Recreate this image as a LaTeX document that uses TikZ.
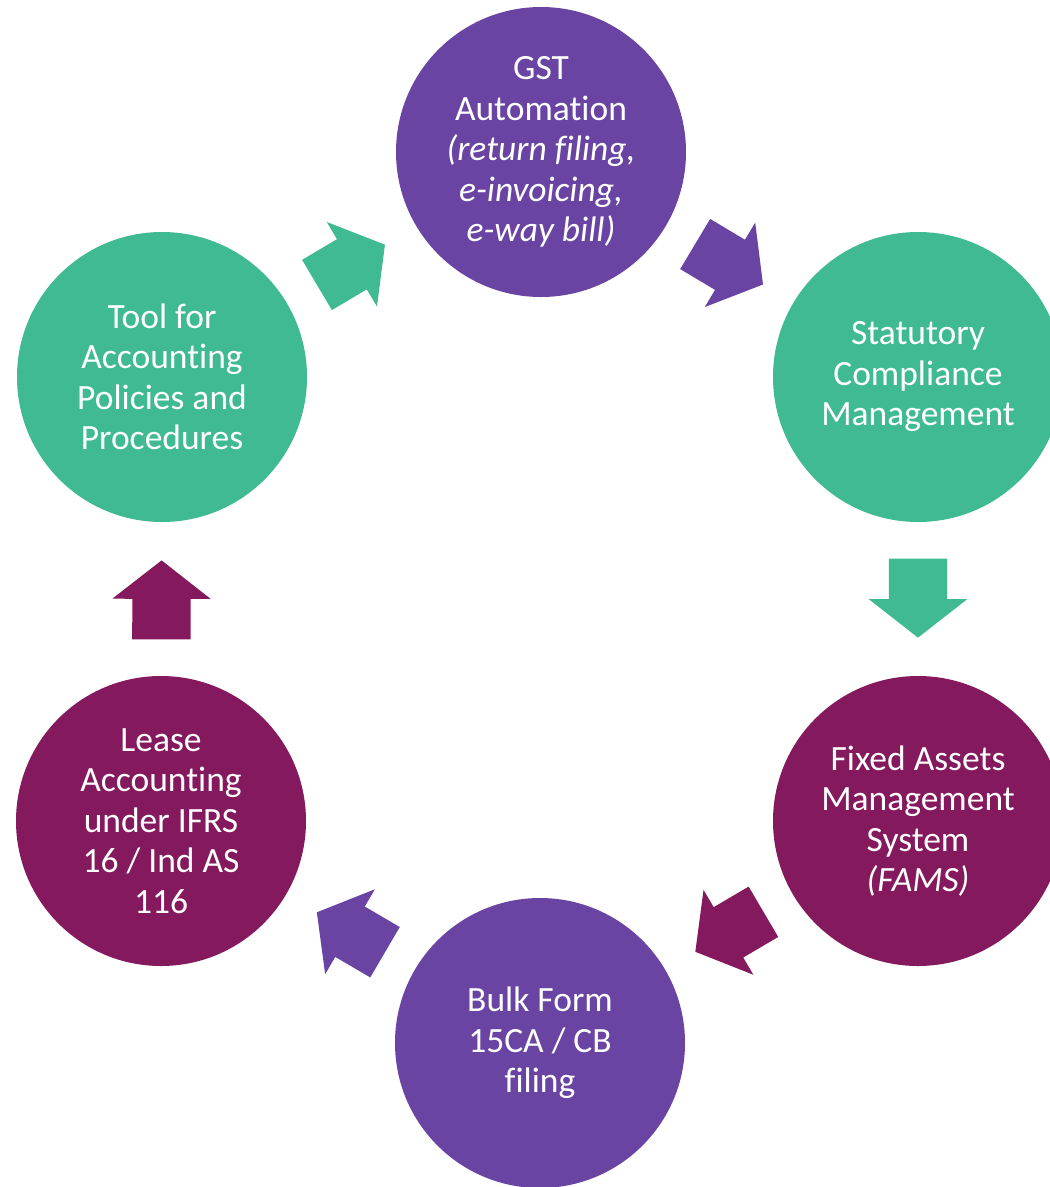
\documentclass[tikz,border=0pt]{standalone}
\usepackage{fontspec}
\setmainfont{Carlito}[Ligatures=NoCommon]
\usetikzlibrary{shapes.arrows}
\definecolor{cyclegreen}{RGB}{64,186,146}
\definecolor{cyclepurple}{RGB}{106,68,163}
\definecolor{cycleplum}{RGB}{132,25,94}

\begin{document}
\begin{tikzpicture}[x=1pt, y=-1pt,
  bubble/.style={circle, minimum size=290pt, inner sep=0pt, text=white,
    align=center, font=\fontsize{35.5}{40.5}\selectfont},
  flow/.style={single arrow, minimum height=79pt, inner xsep=0pt, inner ysep=29pt,
    single arrow head extend=20pt, single arrow tip angle=104,
    pos=0.42, sloped, allow upside down}]
\useasboundingbox (0,0) rectangle (1050,1187);

\node[bubble, fill=cyclepurple] (gst) at (541,152) {GST\\Automation\\\textit{(return filing,}\\\textit{e-invoicing,}\\\textit{e-way bill)}};
\node[bubble, fill=cyclegreen] (stat) at (918,377) {Statutory\\Compliance\\Management};
\node[bubble, fill=cycleplum] (fams) at (918,821) {Fixed Assets\\Management\\System\\\textit{(FAMS)}};
\node[bubble, fill=cyclepurple] (bulk) at (540,1043) {Bulk Form\\15CA / CB\\filing};
\node[bubble, fill=cycleplum] (lease) at (161,821) {Lease\\Accounting\\under IFRS\\16 / Ind AS\\116};
\node[bubble, fill=cyclegreen] (tool) at (162,377) {Tool for\\Accounting\\Policies and\\Procedures};

% arrows take the colour of the circle they leave
\path (tool) -- (gst) node[flow, fill=cyclegreen] (a1) {};
\path (gst) -- (stat) node[flow, fill=cyclepurple] (a2) {};
\path (stat) -- (fams) node[flow, fill=cyclegreen] (a3) {};
\path (fams) -- (bulk) node[flow, fill=cycleplum] (a4) {};
\path (bulk) -- (lease) node[flow, fill=cyclepurple] (a5) {};
\path (lease) -- (tool) node[flow, fill=cycleplum] (a6) {};

\end{tikzpicture}
\end{document}
